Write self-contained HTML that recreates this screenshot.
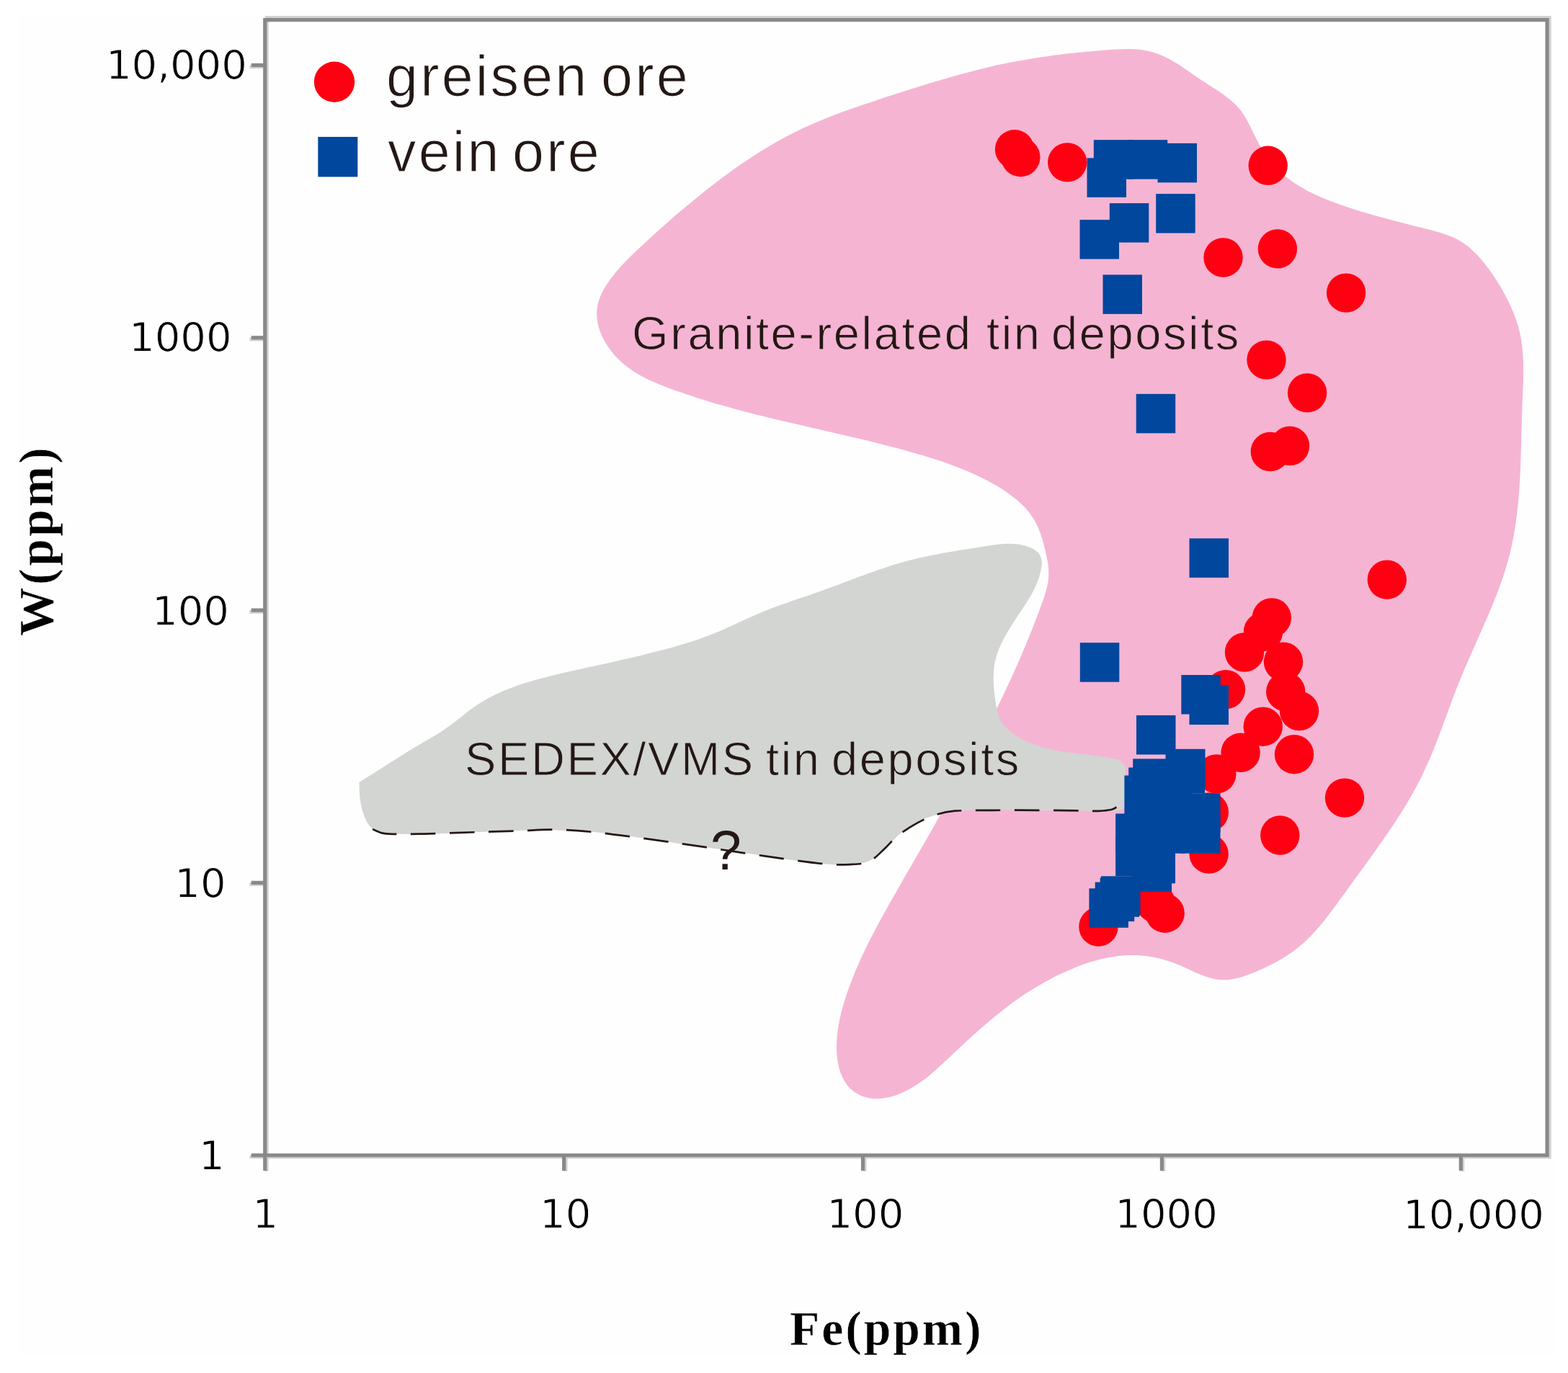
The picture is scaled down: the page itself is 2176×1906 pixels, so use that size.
<!DOCTYPE html>
<html lang="en">
<head>
<meta charset="utf-8">
<title>W (ppm) vs Fe (ppm)</title>
<style>
html,body{margin:0;padding:0;background:#fff;}
body{width:2176px;height:1906px;overflow:hidden;}
svg{display:block;position:absolute;left:0;top:0;}
.tick{font-family:"DejaVu Sans","Liberation Sans",sans-serif;font-size:56px;fill:#000;stroke:#fefefe;stroke-width:0.9px;}
.lab{font-family:"Liberation Sans",Arial,sans-serif;fill:#231815;}
.ttl{font-family:"Liberation Serif","Times New Roman",serif;font-weight:bold;font-size:67.5px;fill:#000;stroke:#fefefe;stroke-width:0.5px;}
</style>
</head>
<body>
<svg width="2176" height="1906" viewBox="0 0 2176 1906">
<defs><clipPath id="fig"><rect x="26" y="22" width="2130" height="1860"/></clipPath></defs>
<rect x="0" y="0" width="2176" height="1906" fill="#ffffff"/>
<g clip-path="url(#fig)">
<rect x="26" y="22" width="2130" height="1860" fill="#fefefe"/>
<path id="pink" fill="#f6b4d3" d="M828.7,427.2 C829.6,420.8 831.8,414.5 834.4,408.5 C837.1,402.5 840.9,396.7 844.6,391.2 C848.3,385.7 852.6,380.4 856.9,375.3 C861.2,370.2 865.8,365.3 870.4,360.5 C875.1,355.7 880.0,351.1 884.8,346.5 C889.7,341.9 894.6,337.4 899.5,332.9 C904.4,328.4 909.3,324.0 914.2,319.5 C919.1,315.1 924.0,310.8 929.0,306.4 C933.9,302.1 938.9,297.8 943.9,293.6 C948.9,289.3 953.9,285.1 959.0,280.9 C964.0,276.7 969.1,272.6 974.3,268.5 C979.4,264.4 984.6,260.3 989.9,256.3 C995.1,252.2 1000.4,248.2 1005.7,244.3 C1011.1,240.3 1016.5,236.4 1021.9,232.6 C1027.4,228.7 1032.9,224.9 1038.5,221.2 C1044.0,217.5 1049.6,213.8 1055.3,210.3 C1061.0,206.8 1066.7,203.3 1072.4,199.9 C1078.2,196.6 1084.0,193.3 1089.9,190.2 C1095.7,187.1 1101.6,184.1 1107.6,181.2 C1113.5,178.3 1119.6,175.5 1125.6,172.9 C1131.6,170.2 1137.7,167.6 1143.8,165.2 C1149.9,162.7 1156.1,160.3 1162.3,158.0 C1168.4,155.6 1174.6,153.4 1180.9,151.2 C1187.1,149.0 1193.3,146.8 1199.6,144.7 C1205.9,142.6 1212.2,140.5 1218.5,138.4 C1224.8,136.4 1231.1,134.3 1237.4,132.3 C1243.7,130.2 1250.0,128.2 1256.3,126.2 C1262.7,124.2 1269.0,122.2 1275.4,120.2 C1281.7,118.2 1288.1,116.3 1294.4,114.3 C1300.8,112.4 1307.2,110.5 1313.5,108.7 C1319.9,106.8 1326.3,105.0 1332.7,103.3 C1339.1,101.5 1345.5,99.8 1351.9,98.2 C1358.4,96.5 1364.8,95.0 1371.3,93.4 C1377.7,91.9 1384.2,90.5 1390.6,89.1 C1397.1,87.7 1403.6,86.4 1410.1,85.2 C1416.6,84.0 1423.1,82.8 1429.6,81.7 C1436.1,80.7 1442.6,79.7 1449.2,78.7 C1455.7,77.8 1462.3,76.9 1468.8,76.1 C1475.4,75.3 1482.0,74.5 1488.6,73.8 C1495.2,73.1 1501.8,72.4 1508.5,71.8 C1515.1,71.2 1521.8,70.6 1528.4,70.0 C1535.1,69.5 1541.8,68.9 1548.5,68.5 C1555.1,68.2 1561.9,67.8 1568.4,68.0 C1575.0,68.2 1581.5,68.5 1587.9,69.7 C1594.3,70.8 1600.5,72.4 1606.6,74.7 C1612.7,76.9 1618.6,79.9 1624.5,83.1 C1630.3,86.3 1636.1,90.0 1641.8,93.7 C1647.5,97.4 1653.2,101.5 1658.8,105.4 C1664.5,109.2 1670.3,113.1 1675.9,116.8 C1681.6,120.5 1687.3,124.0 1692.8,127.8 C1698.2,131.6 1703.5,135.3 1708.4,139.6 C1713.2,143.8 1717.7,148.2 1721.7,153.2 C1725.6,158.3 1728.9,164.0 1732.1,169.7 C1735.3,175.5 1737.9,181.8 1740.9,187.8 C1744.0,193.8 1747.0,199.9 1750.4,205.6 C1753.9,211.2 1757.6,216.7 1761.7,221.8 C1765.7,227.0 1770.1,231.9 1774.8,236.5 C1779.4,241.0 1784.4,245.3 1789.7,249.3 C1794.9,253.2 1800.5,256.9 1806.2,260.2 C1811.9,263.6 1817.9,266.7 1824.0,269.6 C1830.1,272.5 1836.3,275.2 1842.6,277.7 C1848.9,280.2 1855.3,282.5 1861.7,284.7 C1868.0,286.9 1874.4,289.0 1880.7,291.0 C1887.0,293.0 1893.3,294.8 1899.6,296.7 C1905.9,298.5 1912.1,300.2 1918.4,302.0 C1924.7,303.7 1931.0,305.3 1937.3,307.0 C1943.6,308.7 1949.9,310.3 1956.3,311.9 C1962.7,313.5 1969.2,315.1 1975.7,316.8 C1982.2,318.5 1988.8,320.0 1995.3,322.0 C2001.7,323.9 2008.2,325.9 2014.3,328.5 C2020.3,331.2 2026.1,334.2 2031.5,337.8 C2036.9,341.5 2041.8,345.8 2046.6,350.4 C2051.3,354.9 2055.6,360.0 2059.8,365.2 C2064.0,370.4 2067.9,375.8 2071.7,381.3 C2075.4,386.8 2079.0,392.5 2082.4,398.2 C2085.8,404.0 2089.0,409.8 2092.0,415.8 C2095.0,421.7 2097.8,427.8 2100.2,433.9 C2102.7,440.1 2105.0,446.3 2106.8,452.6 C2108.6,458.9 2110.0,465.3 2111.1,471.7 C2112.2,478.1 2112.8,484.6 2113.3,491.2 C2113.8,497.7 2114.0,504.3 2114.1,510.9 C2114.1,517.5 2114.0,524.2 2113.8,530.9 C2113.6,537.5 2113.3,544.2 2113.0,550.9 C2112.8,557.6 2112.5,564.3 2112.3,571.0 C2112.0,577.7 2111.9,584.5 2111.7,591.2 C2111.5,597.9 2111.3,604.6 2111.2,611.3 C2111.0,617.9 2110.8,624.6 2110.6,631.3 C2110.4,638.0 2110.2,644.6 2109.9,651.3 C2109.6,657.9 2109.3,664.6 2108.9,671.2 C2108.5,677.8 2108.0,684.4 2107.4,691.0 C2106.9,697.6 2106.2,704.1 2105.5,710.7 C2104.7,717.2 2103.9,723.7 2102.9,730.2 C2101.9,736.7 2100.8,743.1 2099.5,749.5 C2098.2,756.0 2096.8,762.4 2095.3,768.7 C2093.7,775.1 2091.9,781.4 2090.0,787.7 C2088.1,794.0 2086.1,800.3 2083.9,806.5 C2081.7,812.8 2079.4,819.0 2077.0,825.2 C2074.6,831.4 2072.1,837.5 2069.6,843.7 C2067.0,849.9 2064.4,856.0 2061.7,862.1 C2059.1,868.3 2056.4,874.4 2053.6,880.5 C2050.9,886.6 2048.2,892.8 2045.5,898.9 C2042.7,905.0 2040.0,911.1 2037.4,917.2 C2034.7,923.4 2032.0,929.5 2029.5,935.7 C2026.9,941.8 2024.4,948.0 2022.0,954.1 C2019.6,960.3 2017.3,966.5 2014.9,972.7 C2012.6,978.8 2010.4,985.0 2008.1,991.2 C2005.8,997.4 2003.6,1003.6 2001.3,1009.7 C1999.0,1015.9 1996.7,1022.0 1994.3,1028.2 C1991.9,1034.3 1989.5,1040.4 1987.0,1046.5 C1984.4,1052.5 1981.9,1058.6 1979.1,1064.6 C1976.4,1070.6 1973.5,1076.5 1970.6,1082.5 C1967.6,1088.4 1964.4,1094.2 1961.2,1100.1 C1957.9,1105.9 1954.5,1111.7 1951.1,1117.4 C1947.6,1123.1 1944.0,1128.8 1940.4,1134.4 C1936.8,1140.1 1933.1,1145.7 1929.4,1151.2 C1925.6,1156.8 1921.8,1162.2 1918.0,1167.7 C1914.2,1173.1 1910.4,1178.5 1906.6,1183.9 C1902.7,1189.3 1898.9,1194.6 1895.0,1199.9 C1891.2,1205.2 1887.3,1210.5 1883.4,1215.9 C1879.5,1221.2 1875.6,1226.5 1871.8,1231.9 C1867.9,1237.2 1864.0,1242.6 1860.1,1248.0 C1856.2,1253.4 1852.3,1258.9 1848.2,1264.3 C1844.2,1269.6 1840.2,1275.0 1836.0,1280.1 C1831.8,1285.3 1827.5,1290.4 1823.0,1295.2 C1818.5,1300.0 1813.9,1304.7 1809.1,1309.1 C1804.2,1313.4 1799.1,1317.5 1793.8,1321.3 C1788.5,1325.1 1783.0,1328.6 1777.3,1331.9 C1771.6,1335.2 1765.7,1338.3 1759.7,1341.2 C1753.7,1344.2 1747.5,1347.0 1741.3,1349.5 C1735.0,1352.1 1728.6,1354.7 1722.2,1356.5 C1715.8,1358.2 1709.3,1359.8 1702.9,1360.2 C1696.5,1360.6 1690.1,1360.0 1683.8,1358.7 C1677.5,1357.5 1671.3,1355.0 1665.1,1352.6 C1658.9,1350.1 1652.8,1346.9 1646.6,1344.2 C1640.3,1341.5 1634.1,1338.6 1627.9,1336.3 C1621.6,1334.1 1615.3,1332.1 1608.9,1330.5 C1602.5,1328.9 1596.1,1327.7 1589.7,1326.9 C1583.3,1326.2 1576.8,1325.8 1570.2,1325.9 C1563.7,1325.9 1557.2,1326.4 1550.6,1327.2 C1544.1,1328.0 1537.5,1329.3 1531.0,1330.7 C1524.5,1332.2 1518.0,1334.0 1511.5,1336.1 C1505.1,1338.1 1498.7,1340.4 1492.5,1342.9 C1486.2,1345.4 1480.0,1348.1 1473.9,1351.0 C1467.9,1353.8 1461.9,1356.8 1456.1,1359.9 C1450.2,1363.0 1444.5,1366.3 1438.9,1369.7 C1433.3,1373.0 1427.7,1376.5 1422.3,1380.1 C1416.8,1383.8 1411.5,1387.5 1406.2,1391.3 C1400.9,1395.2 1395.6,1399.1 1390.5,1403.2 C1385.3,1407.3 1380.1,1411.4 1375.1,1415.7 C1370.0,1420.0 1364.9,1424.3 1359.9,1428.8 C1354.9,1433.2 1349.9,1437.7 1344.9,1442.3 C1340.0,1446.8 1335.0,1451.4 1330.2,1456.0 C1325.3,1460.5 1320.5,1465.1 1315.7,1469.6 C1310.8,1474.1 1306.2,1478.5 1301.3,1482.8 C1296.5,1487.1 1291.8,1491.4 1286.7,1495.4 C1281.6,1499.3 1276.4,1503.2 1270.7,1506.7 C1265.1,1510.3 1259.1,1513.7 1252.9,1516.5 C1246.6,1519.3 1240.0,1521.8 1233.4,1523.3 C1226.8,1524.7 1219.9,1525.6 1213.4,1525.2 C1206.9,1524.7 1200.2,1523.2 1194.3,1520.7 C1188.5,1518.1 1182.9,1514.3 1178.5,1509.7 C1174.1,1505.1 1170.6,1499.2 1168.0,1493.1 C1165.3,1487.1 1163.7,1480.2 1162.5,1473.6 C1161.4,1466.9 1161.0,1459.9 1161.0,1453.2 C1160.9,1446.5 1161.4,1439.8 1162.2,1433.2 C1162.9,1426.7 1164.1,1420.2 1165.5,1413.8 C1166.9,1407.4 1168.6,1401.0 1170.4,1394.7 C1172.3,1388.4 1174.3,1382.2 1176.4,1376.0 C1178.6,1369.8 1180.9,1363.6 1183.3,1357.5 C1185.7,1351.4 1188.3,1345.3 1190.9,1339.3 C1193.5,1333.3 1196.3,1327.3 1199.1,1321.3 C1202.0,1315.3 1204.9,1309.4 1207.9,1303.5 C1210.9,1297.5 1214.0,1291.7 1217.1,1285.8 C1220.2,1279.9 1223.4,1274.1 1226.7,1268.2 C1229.9,1262.4 1233.2,1256.6 1236.4,1250.8 C1239.7,1245.0 1243.1,1239.2 1246.4,1233.4 C1249.7,1227.6 1253.0,1221.9 1256.3,1216.1 C1259.6,1210.3 1263.0,1204.5 1266.3,1198.8 C1269.6,1193.0 1272.9,1187.3 1276.2,1181.5 C1279.5,1175.7 1282.8,1170.0 1286.1,1164.2 C1289.4,1158.5 1292.7,1152.7 1296.0,1146.9 C1299.2,1141.2 1302.5,1135.4 1305.7,1129.6 C1309.0,1123.9 1312.2,1118.1 1315.5,1112.3 C1318.7,1106.5 1321.9,1100.8 1325.1,1095.0 C1328.3,1089.2 1331.5,1083.4 1334.6,1077.6 C1337.8,1071.8 1340.9,1066.0 1344.1,1060.1 C1347.2,1054.3 1350.3,1048.5 1353.4,1042.6 C1356.4,1036.8 1359.5,1030.9 1362.5,1025.1 C1365.6,1019.2 1368.6,1013.3 1371.6,1007.4 C1374.5,1001.5 1377.5,995.6 1380.4,989.6 C1383.3,983.7 1386.2,977.8 1389.1,971.8 C1392.0,965.8 1394.8,959.8 1397.6,953.8 C1400.4,947.8 1403.2,941.8 1405.9,935.7 C1408.6,929.7 1411.3,923.6 1414.0,917.5 C1416.6,911.4 1419.3,905.3 1421.8,899.2 C1424.4,893.0 1427.0,886.8 1429.5,880.6 C1432.0,874.5 1434.4,868.2 1436.8,862.0 C1439.2,855.8 1441.6,849.5 1443.9,843.2 C1446.2,836.9 1448.6,830.6 1450.4,824.3 C1452.3,818.0 1454.1,811.7 1454.8,805.3 C1455.5,798.9 1455.4,792.5 1454.8,786.1 C1454.1,779.6 1452.6,773.1 1451.1,766.6 C1449.6,760.0 1447.9,753.2 1445.9,746.8 C1443.8,740.4 1441.6,733.8 1438.7,727.9 C1435.7,722.0 1432.2,716.5 1428.2,711.4 C1424.3,706.3 1419.7,701.6 1414.9,697.2 C1410.1,692.7 1404.8,688.7 1399.5,684.9 C1394.1,681.0 1388.3,677.5 1382.6,674.1 C1376.9,670.8 1371.0,667.6 1365.1,664.6 C1359.2,661.6 1353.2,658.8 1347.1,656.1 C1341.1,653.4 1334.9,650.9 1328.7,648.5 C1322.6,646.1 1316.3,643.8 1310.0,641.6 C1303.8,639.5 1297.4,637.4 1291.1,635.4 C1284.7,633.4 1278.3,631.5 1271.9,629.7 C1265.5,627.8 1259.1,626.1 1252.7,624.3 C1246.2,622.6 1239.8,620.9 1233.4,619.2 C1226.9,617.6 1220.5,615.9 1214.0,614.3 C1207.5,612.7 1201.1,611.2 1194.6,609.6 C1188.1,608.1 1181.6,606.6 1175.2,605.0 C1168.7,603.5 1162.2,602.0 1155.7,600.5 C1149.2,599.0 1142.8,597.6 1136.3,596.1 C1129.8,594.6 1123.3,593.1 1116.9,591.6 C1110.4,590.1 1103.9,588.6 1097.5,587.1 C1091.0,585.6 1084.6,584.1 1078.1,582.5 C1071.7,581.0 1065.2,579.4 1058.8,577.8 C1052.4,576.2 1046.0,574.6 1039.6,573.0 C1033.2,571.3 1026.8,569.6 1020.4,567.9 C1014.0,566.2 1007.7,564.4 1001.3,562.6 C995.0,560.7 988.6,558.9 982.3,556.9 C976.0,555.0 969.7,553.0 963.5,551.0 C957.2,548.9 950.9,546.8 944.7,544.6 C938.5,542.5 932.2,540.2 926.1,537.9 C919.9,535.5 913.7,533.2 907.7,530.5 C901.7,527.8 895.8,525.0 890.1,521.9 C884.3,518.7 878.7,515.3 873.4,511.5 C868.1,507.6 863.0,503.4 858.3,498.7 C853.5,494.0 849.0,488.7 845.1,483.1 C841.2,477.6 837.6,471.6 835.0,465.5 C832.3,459.4 830.1,452.9 829.1,446.5 C828.0,440.1 827.8,433.5 828.7,427.2Z"/>
<path id="gray" fill="#d3d5d2" d="M498.6,1085.8 C500.3,1084.7 505.4,1081.5 508.8,1079.4 C512.3,1077.2 515.7,1075.1 519.1,1072.9 C522.5,1070.7 525.9,1068.6 529.3,1066.4 C532.7,1064.2 536.1,1062.0 539.5,1059.9 C543.0,1057.7 546.4,1055.5 549.8,1053.4 C553.2,1051.2 556.7,1049.1 560.1,1047.0 C563.5,1044.8 567.0,1042.7 570.4,1040.6 C573.9,1038.5 577.3,1036.4 580.8,1034.4 C584.2,1032.3 587.7,1030.3 591.2,1028.3 C594.7,1026.3 598.1,1024.3 601.6,1022.2 C605.0,1020.1 608.5,1018.1 611.9,1015.9 C615.2,1013.7 618.6,1011.5 621.9,1009.1 C625.2,1006.8 628.4,1004.3 631.7,1001.8 C634.9,999.3 638.1,996.7 641.3,994.2 C644.5,991.6 647.7,989.0 650.9,986.6 C654.2,984.1 657.5,981.7 660.8,979.5 C664.1,977.2 667.6,975.1 671.0,973.0 C674.5,971.0 678.0,969.0 681.5,967.2 C685.1,965.3 688.7,963.6 692.3,961.9 C696.0,960.3 699.7,958.7 703.4,957.2 C707.1,955.7 710.9,954.3 714.6,952.9 C718.4,951.5 722.3,950.2 726.1,949.0 C729.9,947.8 733.8,946.6 737.7,945.5 C741.6,944.3 745.5,943.2 749.4,942.2 C753.3,941.1 757.2,940.1 761.2,939.2 C765.1,938.2 769.1,937.2 773.0,936.3 C777.0,935.3 780.9,934.4 784.9,933.5 C788.8,932.6 792.8,931.7 796.7,930.8 C800.7,929.9 804.6,929.1 808.6,928.2 C812.5,927.3 816.5,926.4 820.4,925.6 C824.3,924.7 828.3,923.8 832.2,923.0 C836.1,922.1 840.1,921.2 844.0,920.4 C847.9,919.5 851.9,918.6 855.8,917.7 C859.7,916.8 863.7,916.0 867.6,915.1 C871.5,914.2 875.4,913.2 879.4,912.3 C883.3,911.4 887.2,910.5 891.1,909.5 C895.0,908.6 898.9,907.6 902.8,906.6 C906.8,905.7 910.7,904.7 914.6,903.6 C918.5,902.6 922.4,901.6 926.3,900.5 C930.2,899.5 934.1,898.4 938.0,897.3 C941.9,896.2 945.7,895.0 949.6,893.8 C953.5,892.7 957.4,891.4 961.2,890.2 C965.1,888.9 968.9,887.6 972.7,886.3 C976.5,884.9 980.3,883.5 984.1,882.1 C987.9,880.6 991.6,879.1 995.4,877.5 C999.1,875.9 1002.8,874.3 1006.5,872.7 C1010.2,871.1 1013.9,869.4 1017.5,867.7 C1021.2,866.0 1024.9,864.3 1028.6,862.6 C1032.2,860.9 1035.9,859.2 1039.6,857.6 C1043.2,855.9 1046.9,854.3 1050.6,852.7 C1054.3,851.1 1058.0,849.5 1061.8,848.0 C1065.5,846.5 1069.2,845.0 1073.0,843.6 C1076.7,842.2 1080.5,840.8 1084.3,839.4 C1088.1,838.1 1091.9,836.7 1095.7,835.4 C1099.5,834.1 1103.3,832.8 1107.1,831.5 C1111.0,830.2 1114.8,828.9 1118.6,827.7 C1122.4,826.4 1126.2,825.1 1130.1,823.7 C1133.9,822.4 1137.7,821.1 1141.5,819.7 C1145.3,818.4 1149.1,817.0 1152.9,815.6 C1156.8,814.2 1160.6,812.8 1164.4,811.4 C1168.2,809.9 1172.0,808.5 1175.8,807.1 C1179.5,805.6 1183.3,804.2 1187.1,802.8 C1190.9,801.3 1194.7,799.9 1198.5,798.5 C1202.4,797.1 1206.2,795.7 1210.0,794.3 C1213.8,793.0 1217.6,791.6 1221.4,790.3 C1225.2,789.0 1229.1,787.7 1232.9,786.4 C1236.7,785.2 1240.6,784.0 1244.4,782.8 C1248.3,781.7 1252.1,780.6 1256.0,779.5 C1259.9,778.4 1263.8,777.4 1267.6,776.5 C1271.5,775.5 1275.4,774.6 1279.3,773.7 C1283.3,772.9 1287.2,772.0 1291.1,771.2 C1295.0,770.4 1299.0,769.7 1302.9,768.9 C1306.9,768.2 1310.9,767.5 1314.8,766.8 C1318.8,766.1 1322.8,765.4 1326.8,764.8 C1330.8,764.1 1334.8,763.5 1338.8,762.8 C1342.8,762.2 1346.8,761.5 1350.8,760.9 C1354.9,760.2 1358.9,759.6 1362.9,758.9 C1367.0,758.3 1371.0,757.6 1375.1,757.0 C1379.1,756.4 1383.2,755.8 1387.2,755.4 C1391.3,755.1 1395.3,754.8 1399.3,754.7 C1403.3,754.7 1407.4,754.9 1411.3,755.3 C1415.3,755.8 1419.3,756.6 1423.1,757.7 C1427.0,758.9 1431.1,760.3 1434.4,762.3 C1437.7,764.4 1440.9,766.8 1442.8,769.9 C1444.7,773.0 1445.7,777.0 1445.8,781.1 C1446.0,785.1 1444.8,790.0 1443.9,794.2 C1443.0,798.4 1441.7,802.4 1440.3,806.2 C1439.0,810.0 1437.4,813.5 1435.7,817.0 C1434.0,820.5 1432.1,823.9 1430.2,827.3 C1428.2,830.7 1426.1,834.1 1424.0,837.5 C1421.8,840.9 1419.5,844.3 1417.3,847.7 C1415.0,851.1 1412.7,854.5 1410.4,858.0 C1408.2,861.4 1405.9,864.9 1403.7,868.4 C1401.5,871.9 1399.3,875.4 1397.2,878.9 C1395.2,882.5 1393.2,886.0 1391.4,889.7 C1389.6,893.3 1387.9,896.9 1386.4,900.6 C1384.9,904.3 1383.6,908.1 1382.5,911.9 C1381.5,915.7 1380.6,919.5 1380.0,923.4 C1379.4,927.3 1379.1,931.3 1378.9,935.3 C1378.7,939.3 1378.7,943.3 1378.8,947.3 C1379.0,951.4 1379.3,955.4 1379.7,959.5 C1380.1,963.6 1380.7,967.6 1381.3,971.7 C1381.9,975.8 1382.5,979.9 1383.4,983.9 C1384.2,987.9 1384.9,992.0 1386.4,995.7 C1387.9,999.4 1390.0,1002.8 1392.4,1005.9 C1394.8,1009.1 1397.8,1011.9 1400.8,1014.5 C1403.8,1017.1 1407.1,1019.5 1410.4,1021.7 C1413.7,1023.8 1417.2,1025.8 1420.8,1027.6 C1424.4,1029.4 1428.2,1031.0 1431.9,1032.5 C1435.7,1034.0 1439.6,1035.3 1443.5,1036.4 C1447.4,1037.6 1451.4,1038.6 1455.4,1039.6 C1459.4,1040.5 1463.4,1041.3 1467.4,1042.0 C1471.4,1042.7 1475.4,1043.4 1479.3,1043.9 C1483.3,1044.5 1487.3,1045.0 1491.3,1045.5 C1495.2,1046.0 1499.2,1046.5 1503.2,1046.9 C1507.2,1047.4 1511.2,1047.8 1515.1,1048.4 C1519.1,1048.9 1523.1,1049.4 1527.1,1050.0 C1531.1,1050.6 1535.1,1051.2 1539.1,1052.0 C1543.1,1052.8 1547.6,1052.9 1551.1,1054.6 C1554.6,1056.2 1558.2,1058.5 1560.0,1061.8 C1561.8,1065.0 1561.7,1069.9 1561.9,1073.9 C1562.1,1078.0 1561.2,1082.0 1561.1,1086.1 C1561.0,1090.1 1561.3,1094.2 1561.4,1098.3 C1561.5,1102.4 1562.3,1106.5 1561.8,1110.5 C1561.2,1114.6 1560.4,1119.9 1558.0,1122.4 C1555.6,1124.9 1551.2,1125.1 1547.4,1125.7 C1543.6,1126.2 1539.3,1125.7 1535.2,1125.7 C1531.1,1125.6 1527.1,1125.6 1523.1,1125.6 C1519.0,1125.6 1515.0,1125.6 1510.9,1125.6 C1506.9,1125.5 1502.8,1125.5 1498.8,1125.5 C1494.8,1125.5 1490.7,1125.4 1486.7,1125.4 C1482.7,1125.4 1478.6,1125.3 1474.6,1125.3 C1470.6,1125.3 1466.5,1125.2 1462.5,1125.2 C1458.5,1125.2 1454.4,1125.1 1450.4,1125.1 C1446.4,1125.1 1442.3,1125.0 1438.3,1125.0 C1434.3,1124.9 1430.2,1124.9 1426.2,1124.8 C1422.2,1124.8 1418.1,1124.8 1414.1,1124.7 C1410.0,1124.7 1406.0,1124.6 1402.0,1124.6 C1397.9,1124.6 1393.9,1124.5 1389.8,1124.5 C1385.8,1124.5 1381.7,1124.4 1377.7,1124.4 C1373.6,1124.4 1369.5,1124.3 1365.5,1124.3 C1361.4,1124.3 1357.4,1124.3 1353.3,1124.4 C1349.3,1124.5 1345.2,1124.6 1341.2,1124.8 C1337.2,1125.1 1333.2,1125.3 1329.2,1125.7 C1325.2,1126.1 1321.2,1126.6 1317.3,1127.3 C1313.3,1127.9 1309.4,1128.6 1305.5,1129.6 C1301.6,1130.5 1297.7,1131.5 1293.9,1132.8 C1290.0,1134.0 1286.2,1135.4 1282.5,1137.0 C1278.8,1138.6 1275.1,1140.3 1271.5,1142.2 C1268.0,1144.2 1264.4,1146.2 1261.0,1148.5 C1257.6,1150.7 1254.3,1153.2 1251.2,1155.8 C1248.0,1158.3 1245.0,1161.2 1242.0,1164.0 C1239.1,1166.9 1236.3,1170.0 1233.5,1172.9 C1230.6,1175.9 1227.9,1178.9 1224.9,1181.7 C1222.0,1184.4 1219.1,1187.1 1215.9,1189.4 C1212.7,1191.6 1209.4,1193.7 1205.8,1195.2 C1202.2,1196.8 1198.3,1197.8 1194.4,1198.7 C1190.4,1199.5 1186.2,1199.9 1182.1,1200.2 C1178.0,1200.5 1173.9,1200.6 1169.8,1200.6 C1165.7,1200.6 1161.7,1200.5 1157.7,1200.3 C1153.6,1200.1 1149.6,1199.8 1145.6,1199.4 C1141.6,1199.1 1137.6,1198.7 1133.6,1198.3 C1129.6,1197.8 1125.6,1197.4 1121.6,1196.9 C1117.6,1196.4 1113.6,1195.9 1109.6,1195.3 C1105.6,1194.8 1101.6,1194.2 1097.6,1193.7 C1093.6,1193.1 1089.6,1192.5 1085.6,1191.9 C1081.6,1191.3 1077.6,1190.7 1073.6,1190.1 C1069.6,1189.5 1065.6,1188.8 1061.6,1188.2 C1057.6,1187.6 1053.6,1187.0 1049.6,1186.4 C1045.6,1185.8 1041.6,1185.3 1037.6,1184.7 C1033.7,1184.1 1029.7,1183.5 1025.7,1182.9 C1021.7,1182.4 1017.7,1181.8 1013.7,1181.2 C1009.7,1180.6 1005.7,1180.1 1001.7,1179.5 C997.7,1178.9 993.7,1178.4 989.7,1177.8 C985.7,1177.2 981.7,1176.7 977.7,1176.1 C973.7,1175.5 969.7,1174.9 965.7,1174.4 C961.7,1173.8 957.7,1173.2 953.7,1172.6 C949.7,1172.1 945.7,1171.5 941.7,1170.9 C937.7,1170.3 933.7,1169.7 929.8,1169.1 C925.8,1168.5 921.8,1167.9 917.8,1167.3 C913.8,1166.7 909.8,1166.1 905.8,1165.5 C901.8,1164.9 897.8,1164.3 893.8,1163.7 C889.8,1163.1 885.8,1162.5 881.8,1161.9 C877.8,1161.3 873.8,1160.8 869.8,1160.2 C865.8,1159.7 861.8,1159.1 857.8,1158.6 C853.8,1158.1 849.8,1157.7 845.8,1157.2 C841.8,1156.7 837.8,1156.3 833.8,1155.9 C829.8,1155.5 825.7,1155.2 821.7,1154.8 C817.7,1154.5 813.7,1154.2 809.6,1154.0 C805.6,1153.7 801.6,1153.5 797.5,1153.3 C793.5,1153.1 789.4,1152.9 785.4,1152.8 C781.4,1152.7 777.3,1152.6 773.3,1152.5 C769.2,1152.4 765.2,1152.4 761.1,1152.3 C757.1,1152.3 753.0,1152.3 749.0,1152.3 C745.0,1152.3 740.9,1152.4 736.9,1152.4 C732.8,1152.5 728.8,1152.6 724.8,1152.7 C720.7,1152.8 716.7,1152.9 712.7,1153.0 C708.6,1153.1 704.6,1153.3 700.6,1153.4 C696.6,1153.6 692.5,1153.7 688.5,1153.9 C684.5,1154.1 680.5,1154.3 676.5,1154.4 C672.5,1154.6 668.4,1154.8 664.4,1155.0 C660.4,1155.2 656.4,1155.4 652.4,1155.5 C648.4,1155.7 644.3,1155.9 640.3,1156.1 C636.3,1156.2 632.3,1156.4 628.3,1156.6 C624.2,1156.7 620.2,1156.9 616.2,1157.0 C612.1,1157.2 608.1,1157.3 604.0,1157.4 C600.0,1157.5 595.9,1157.6 591.9,1157.7 C587.8,1157.8 583.8,1157.8 579.7,1157.9 C575.6,1157.9 571.6,1157.9 567.5,1157.9 C563.4,1157.9 559.3,1157.8 555.2,1157.8 C551.1,1157.7 546.9,1157.7 542.9,1157.5 C538.8,1157.3 534.6,1157.2 530.8,1156.5 C527.0,1155.7 523.2,1154.8 520.0,1152.9 C516.8,1151.0 514.0,1148.1 511.6,1144.9 C509.2,1141.6 507.3,1137.4 505.7,1133.5 C504.1,1129.5 502.9,1125.3 501.9,1121.4 C500.9,1117.4 500.3,1113.7 499.8,1109.9 C499.2,1106.1 499.0,1102.4 498.8,1098.4 C498.6,1094.4 498.6,1087.9 498.6,1085.8Z"/>
<path id="dash" fill="none" stroke="#231815" stroke-width="2.7" stroke-dasharray="34.5 19.5" d="M1549.5,1120.5 C1548.2,1121.1 1546.1,1123.1 1542.0,1124.0 C1537.9,1124.9 1532.0,1125.5 1525.0,1125.8 C1518.0,1126.0 1513.5,1125.7 1500.0,1125.5 C1486.5,1125.3 1464.2,1124.9 1444.0,1124.8 C1423.8,1124.7 1398.4,1124.6 1378.6,1124.8 C1358.8,1125.0 1338.7,1124.7 1325.4,1125.7 C1312.1,1126.7 1307.7,1128.1 1298.8,1131.0 C1289.9,1133.9 1281.0,1138.0 1272.2,1142.9 C1263.4,1147.8 1253.2,1154.2 1245.7,1160.2 C1238.2,1166.2 1233.7,1172.8 1227.0,1178.8 C1220.3,1184.8 1213.8,1192.5 1205.8,1196.1 C1197.8,1199.6 1190.3,1199.6 1179.2,1200.1 C1168.1,1200.5 1159.2,1200.8 1139.3,1198.8 C1119.3,1196.8 1086.1,1191.9 1059.5,1188.1 C1032.9,1184.3 1001.6,1179.4 979.8,1176.2 C958.0,1173.0 946.0,1171.2 928.6,1168.7 C911.2,1166.2 893.1,1163.8 875.4,1161.5 C857.7,1159.2 839.9,1156.5 822.2,1154.9 C804.5,1153.3 786.7,1151.9 769.0,1151.7 C751.3,1151.5 737.4,1152.9 715.9,1153.6 C694.4,1154.3 661.7,1155.1 640.2,1155.8 C618.7,1156.5 602.9,1157.2 587.0,1157.6 C571.1,1157.9 554.5,1158.1 545.0,1157.9 C535.5,1157.7 534.5,1157.6 529.8,1156.4 C525.0,1155.2 518.7,1151.8 516.5,1150.9"/>
<g id="greisen" fill="#ff0012">
<circle cx="1408.0" cy="207.3" r="27.2"/>
<circle cx="1416.3" cy="218.2" r="27.2"/>
<circle cx="1481.2" cy="225.4" r="27.2"/>
<circle cx="1759.7" cy="229.8" r="27.2"/>
<circle cx="1697.5" cy="357.5" r="27.2"/>
<circle cx="1772.9" cy="345.4" r="27.2"/>
<circle cx="1868.1" cy="406.6" r="27.2"/>
<circle cx="1757.5" cy="499.6" r="27.2"/>
<circle cx="1814.1" cy="545.4" r="27.2"/>
<circle cx="1762.8" cy="627.0" r="27.2"/>
<circle cx="1790.0" cy="619.0" r="27.2"/>
<circle cx="1924.8" cy="804.7" r="27.2"/>
<circle cx="1764.8" cy="857.4" r="27.2"/>
<circle cx="1753.0" cy="877.0" r="27.2"/>
<circle cx="1727.0" cy="905.5" r="27.2"/>
<circle cx="1781.0" cy="918.7" r="27.2"/>
<circle cx="1784.2" cy="960.3" r="27.2"/>
<circle cx="1803.0" cy="987.0" r="27.2"/>
<circle cx="1701.0" cy="957.2" r="27.2"/>
<circle cx="1752.7" cy="1008.7" r="27.2"/>
<circle cx="1721.6" cy="1044.8" r="27.2"/>
<circle cx="1796.0" cy="1047.2" r="27.2"/>
<circle cx="1688.3" cy="1074.4" r="27.2"/>
<circle cx="1866.0" cy="1107.6" r="27.2"/>
<circle cx="1776.3" cy="1159.5" r="27.2"/>
<circle cx="1677.8" cy="1127.5" r="27.2"/>
<circle cx="1677.6" cy="1185.5" r="27.2"/>
<circle cx="1616.6" cy="1267.7" r="27.2"/>
<circle cx="1604.0" cy="1254.1" r="27.2"/>
<circle cx="1524.4" cy="1286.5" r="27.2"/>
</g>
<g id="vein" fill="#00479d">
<rect x="1517.8" y="194.2" width="54.5" height="54.5"/>
<rect x="1565.7" y="194.2" width="54.5" height="54.5"/>
<rect x="1606.5" y="198.9" width="54.5" height="54.5"/>
<rect x="1508.5" y="219.4" width="54.5" height="54.5"/>
<rect x="1604.2" y="269.1" width="54.5" height="54.5"/>
<rect x="1539.8" y="282.1" width="54.5" height="54.5"/>
<rect x="1498.5" y="305.1" width="54.5" height="54.5"/>
<rect x="1530.5" y="381.4" width="54.5" height="54.5"/>
<rect x="1576.7" y="546.9" width="54.5" height="54.5"/>
<rect x="1650.5" y="747.4" width="54.5" height="54.5"/>
<rect x="1498.8" y="892.2" width="54.5" height="54.5"/>
<rect x="1639.3" y="937.0" width="54.5" height="54.5"/>
<rect x="1650.5" y="951.5" width="54.5" height="54.5"/>
<rect x="1577.0" y="993.0" width="54.5" height="54.5"/>
<rect x="1618.0" y="1039.8" width="54.5" height="54.5"/>
<rect x="1572.2" y="1053.4" width="54.5" height="54.5"/>
<rect x="1566.2" y="1065.5" width="54.5" height="54.5"/>
<rect x="1560.4" y="1076.5" width="54.5" height="54.5"/>
<rect x="1617.5" y="1046.8" width="54.5" height="54.5"/>
<rect x="1639.0" y="1101.3" width="54.5" height="54.5"/>
<rect x="1639.0" y="1130.2" width="54.5" height="54.5"/>
<rect x="1600.0" y="1100.0" width="54.5" height="54.5"/>
<rect x="1548.1" y="1129.5" width="54.5" height="54.5"/>
<rect x="1548.1" y="1161.8" width="54.5" height="54.5"/>
<rect x="1590.0" y="1130.2" width="54.5" height="54.5"/>
<rect x="1576.5" y="1171.8" width="54.5" height="54.5"/>
<rect x="1571.6" y="1183.4" width="54.5" height="54.5"/>
<rect x="1526.7" y="1218.3" width="54.5" height="54.5"/>
<rect x="1519.7" y="1224.6" width="54.5" height="54.5"/>
<rect x="1511.4" y="1233.3" width="54.5" height="54.5"/>
<rect x="1528.0" y="1216.3" width="54.5" height="54.5"/>
</g>
<g id="axes-shadow" stroke="#d2d2d2" stroke-width="5" fill="none">
<path d="M370.2,24.4 H2150.2 V1605.9 H370.2 Z"/>
<line x1="346.4" y1="92.70" x2="368" y2="92.70"/>
<line x1="346.4" y1="471.00" x2="368" y2="471.00"/>
<line x1="346.4" y1="849.30" x2="368" y2="849.30"/>
<line x1="346.4" y1="1227.60" x2="368" y2="1227.60"/>
<line x1="346.4" y1="1605.95" x2="368" y2="1605.95"/>
<line x1="370.15" y1="1604" x2="370.15" y2="1626"/>
<line x1="785.05" y1="1604" x2="785.05" y2="1626"/>
<line x1="1199.90" y1="1604" x2="1199.90" y2="1626"/>
<line x1="1614.80" y1="1604" x2="1614.80" y2="1626"/>
<line x1="2029.70" y1="1604" x2="2029.70" y2="1626"/>
</g>
<g id="axes" stroke="#898989" stroke-width="5.2" fill="none">
<path d="M367.75,27.55 H2147.05 V1603.75 H367.75 Z"/>
<line x1="348.7" y1="90.50" x2="367.75" y2="90.50"/>
<line x1="348.7" y1="468.80" x2="367.75" y2="468.80"/>
<line x1="348.7" y1="847.10" x2="367.75" y2="847.10"/>
<line x1="348.7" y1="1225.40" x2="367.75" y2="1225.40"/>
<line x1="348.7" y1="1603.75" x2="367.75" y2="1603.75"/>
<line x1="367.75" y1="1603.75" x2="367.75" y2="1625.2"/>
<line x1="782.65" y1="1603.75" x2="782.65" y2="1625.2"/>
<line x1="1197.50" y1="1603.75" x2="1197.50" y2="1625.2"/>
<line x1="1612.40" y1="1603.75" x2="1612.40" y2="1625.2"/>
<line x1="2027.30" y1="1603.75" x2="2027.30" y2="1625.2"/>
</g>
<circle cx="464" cy="113.8" r="28.2" fill="#ff0012"/>
<rect x="441.3" y="190" width="55" height="55.5" fill="#00479d"/>
<text class="lab" y="133.1" font-size="79" letter-spacing="3.2" stroke="#fefefe" stroke-width="1.1"><tspan x="536.0">greisen </tspan><tspan x="834.0">ore</tspan></text>
<text class="lab" y="237.6" font-size="79" letter-spacing="3.2" stroke="#fefefe" stroke-width="1.1"><tspan x="538.0">vein </tspan><tspan x="711.0">ore</tspan></text>
<text class="lab" y="485.0" font-size="65" letter-spacing="2.6" stroke="#f6b4d3" stroke-width="0.9"><tspan x="877.0">Granite-related </tspan><tspan x="1369.0">tin </tspan><tspan x="1459.0">deposits</tspan></text>
<text class="lab" y="1076.0" font-size="65" letter-spacing="2.6" stroke="#d3d5d2" stroke-width="0.9"><tspan x="645.0">SEDEX/VMS </tspan><tspan x="1063.0">tin </tspan><tspan x="1154.0">deposits</tspan></text>
<text class="lab" x="986.0" y="1206.5" font-size="77">?</text>
<text class="tick" x="146.9" y="109.0">10,000</text>
<text class="tick" x="179.0" y="487.0">1000</text>
<text class="tick" x="211.0" y="867.3">100</text>
<text class="tick" x="242.3" y="1244.6">10</text>
<text class="tick" x="275.9" y="1622.8">1</text>
<text class="tick" x="350.4" y="1704.0">1</text>
<text class="tick" x="749.0" y="1704.0">10</text>
<text class="tick" x="1147.4" y="1704.3">100</text>
<text class="tick" x="1547.3" y="1704.3">1000</text>
<text class="tick" x="1947.0" y="1704.5">10,000</text>
<text class="ttl" x="1096.0" y="1867.2" letter-spacing="3">Fe(ppm)</text>
<text class="ttl" transform="translate(72.7,883.0) rotate(-90)" letter-spacing="3.6">W(ppm)</text>
</g>
</svg>
</body>
</html>
